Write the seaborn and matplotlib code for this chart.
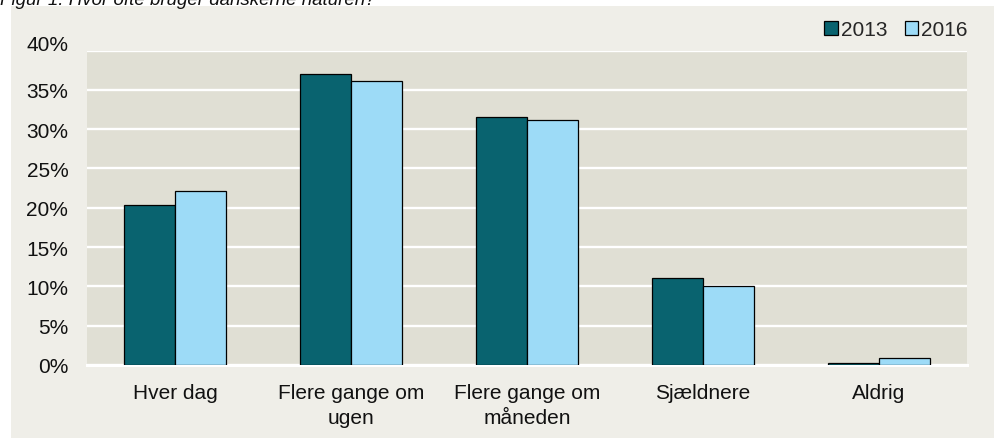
import matplotlib
matplotlib.use("Agg")
import matplotlib.pyplot as plt
from matplotlib.patches import Rectangle, Patch
import seaborn as sns
import pandas as pd

# data (percent)
categories = ["Hver dag", "Flere gange om\nugen", "Flere gange om\nmåneden",
              "Sjældnere", "Aldrig"]
years = ["2013", "2016"]
values_2013 = [20.3, 37.0, 31.6, 11.1, 0.2]
values_2016 = [22.1, 36.1, 31.1, 10.0, 0.9]
yticks = [0, 5, 10, 15, 20, 25, 30, 35, 40]
title = "Figur 1: Hvor ofte bruger danskerne naturen?"

colors = ["#09636F", "#9DDBF7"]
plot_bg = "#E0DFD4"
panel_bg = "#EFEEE8"

df = pd.DataFrame({
    "kategori": categories * 2,
    "år": [years[0]] * len(categories) + [years[1]] * len(categories),
    "andel": values_2013 + values_2016,
})

sns.set_style("white")
plt.rcParams["font.family"] = ["Liberation Sans", "DejaVu Sans"]

W, H = 998, 439
fig = plt.figure(figsize=(W / 100, H / 100), dpi=100)
fig.patch.set_facecolor("white")

# outer beige panel, kept behind the axes
fig.patches.append(Rectangle((11 / W, 0), (994 - 11) / W, (H - 7) / H,
                             transform=fig.transFigure, facecolor=panel_bg,
                             edgecolor="none", zorder=-10))

ax = fig.add_axes([87 / W, (H - 366) / H, 880 / W, (366 - 51.5) / H])
ax.set_zorder(1)
ax.set_facecolor(plot_bg)

sns.barplot(data=df, x="kategori", y="andel", hue="år", palette=colors,
            width=0.574, edgecolor="black", linewidth=0.9, saturation=1,
            ax=ax, zorder=3)

ax.set_ylim(0, 40)
ax.set_yticks(yticks)
ax.set_yticklabels([f"{v}%" for v in yticks])
ax.yaxis.grid(True, color="white", linewidth=1.7, zorder=0)
ax.set_axisbelow(True)
ax.set_xlabel("")
ax.set_ylabel("")
for side in ["top", "left", "right"]:
    ax.spines[side].set_visible(False)
ax.spines["bottom"].set_color("white")
ax.spines["bottom"].set_linewidth(2.2)

ax.tick_params(axis="y", length=0, pad=13.5, labelsize=15, labelcolor="#111111")
ax.tick_params(axis="x", length=0, pad=13, labelsize=15, labelcolor="#111111")
for lab in ax.get_xticklabels():
    lab.set_linespacing(1.4)
# top label sits just above its gridline, as in the reference
ax.get_yticklabels()[-1].set_va("baseline")

ax.get_legend().remove()
handles = [Patch(facecolor=c, edgecolor="black", linewidth=0.9) for c in colors]
fig.legend(handles, years, loc="center right",
           bbox_to_anchor=(968 / W, 1 - 31 / H), ncol=2, frameon=False,
           fontsize=15, handlelength=0.65, handleheight=0.65,
           handletextpad=0.15, columnspacing=0.85, borderpad=0,
           borderaxespad=0)

fig.text(0.0, 1 - 5 / H, title, fontsize=13.5, style="italic",
         ha="left", va="baseline", color="#111111")

fig.savefig("out.png", dpi=100, facecolor=fig.get_facecolor())
